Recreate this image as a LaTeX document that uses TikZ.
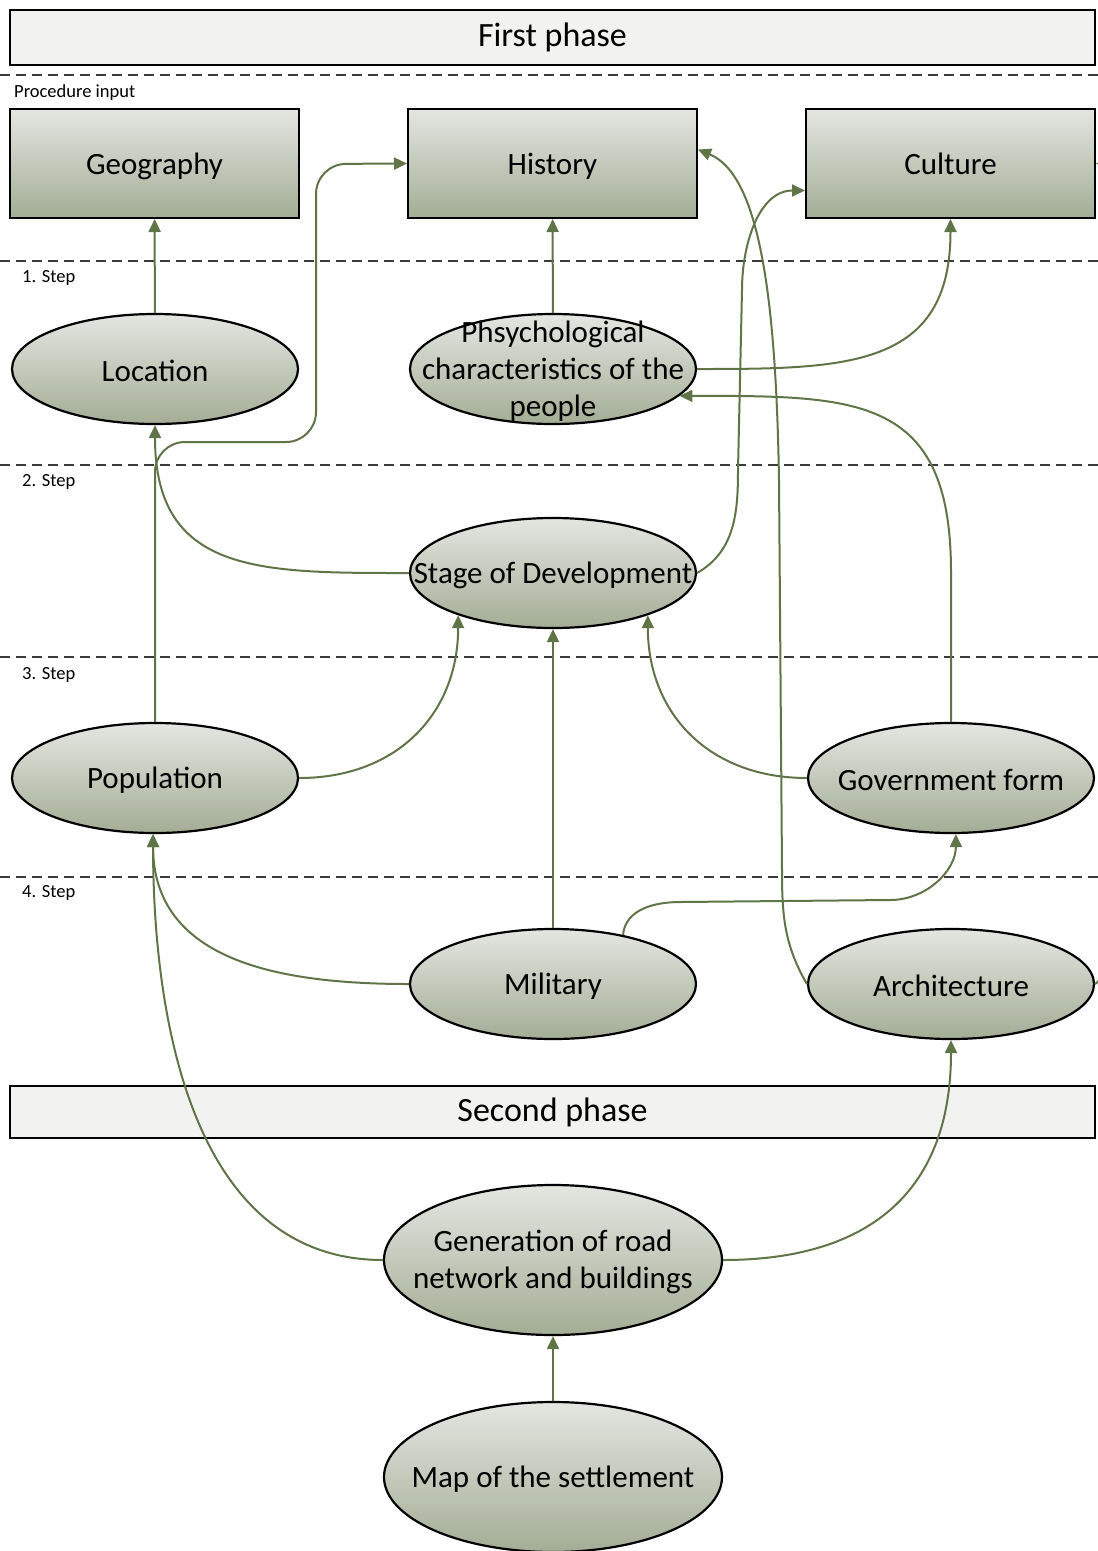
\documentclass[tikz,border=0pt]{standalone}
\usepackage{fontspec}
\setmainfont{Carlito}
\usetikzlibrary{shapes.geometric, arrows.meta}
\definecolor{linkgreen}{HTML}{5F7548}
\definecolor{shadetop}{HTML}{E4E6E1}
\definecolor{shadebot}{HTML}{A3AD95}
\definecolor{phasegray}{HTML}{F2F2F0}
\definecolor{rulegray}{HTML}{3A3A3A}

\tikzset{
  phase/.style={draw, line width=2pt, fill=phasegray, minimum width=1085pt, minimum height=55pt, font=\fontsize{34}{40}\selectfont},
  inbox/.style={draw, line width=2pt, top color=shadetop, bottom color=shadebot, minimum width=289pt, minimum height=109pt, text height=24pt, text depth=2pt, font=\fontsize{31}{37}\selectfont},
  blobtext/.style={align=center, inner sep=0pt, yshift=-2pt, font=\fontsize{31}{37}\selectfont},
  blob/.style={ellipse, draw, line width=2.2pt, top color=shadetop, bottom color=shadebot, minimum width=286pt, minimum height=110pt, inner sep=0pt, label={[blobtext]center:#1}},
  bigblob/.style={blob=#1, minimum width=338pt, minimum height=150pt},
  steplabel/.style={anchor=west, inner sep=0pt, font=\fontsize{18.5}{22}\selectfont},
  divider/.style={rulegray, line width=1.5pt, dash pattern=on 10pt off 6pt},
  link/.style={linkgreen, line width=2pt, -{Triangle[length=13pt,width=12pt]}}
}

\begin{document}
\begin{tikzpicture}[x=1pt, y=-1pt]
\useasboundingbox (0,0) rectangle (1098,1551);
\clip (0,0) rectangle (1098,1551);

\foreach \y in {75,261,465,657,877}
  \draw [divider] (0,\y) -- (1098,\y);

\node [steplabel] (inlabel) at (14,93) {Procedure input};
\node [steplabel] (step1) at (22,278) {1. Step};
\node [steplabel] (step2) at (22,482) {2. Step};
\node [steplabel] (step3) at (22,675) {3. Step};
\node [steplabel] (step4) at (22,893) {4. Step};

\node [phase] (first) at (552.5,37.5) {First phase};
\node [phase, minimum height=52pt] (second) at (552.5,1112) {Second phase};

\node [inbox] (Geography) at (154.5,163.5) {Geography};
\node [inbox] (History) at (552.5,163.5) {History};
\node [inbox] (Culture) at (950.5,163.5) {Culture};

\node [blob=Location] (Location) at (155,369) {};
\node [blob={Phsychological\\characteristics of the\\people}] (Phsych) at (553,369) {};
\node [blob=Stage of Development] (Stage) at (553,573) {};
\node [blob=Population] (Population) at (155,778) {};
\node [blob=Government form] (Government) at (951,778) {};
\node [blob=Military] (Military) at (553,984) {};
\node [blob=Architecture] (Architecture) at (951,984) {};
\node [bigblob={Generation of road\\network and buildings}] (Generation) at (553,1260) {};
\node [bigblob=Map of the settlement] (Map) at (553,1477) {};

\draw [link] (Location) -- (Geography);
\draw [link] (Phsych) -- (History);
\draw [link] (Military) -- (Stage);
\draw [link] (Map) -- (Generation);
\draw [link, rounded corners=30pt] (Population.north) -- (155,442) -- (316,442) -- (316,164) -- (History.west);
\draw [link] (Phsych.east) to[out=0, in=-90, looseness=1.3] (Culture.south);
\draw [link] (Government.north) -- ++(0,-150) to[out=90, in=0, looseness=1.4] (Phsych.-12);
\draw [link] (Stage.west) to[out=180, in=-90, looseness=1.3] (Location.south);
\draw [link] (Stage.east) to[out=30, in=-90] (738,470) -- (742,290) to[out=90, in=180] ([yshift=-27pt]Culture.west);
\draw [link] (Architecture.west) to[out=120, in=-90] (782,870) -- (779,480) .. controls (776,300) and (760,175) .. ([yshift=14pt]History.east);
\draw [link] (Population.east) to[out=0, in=-90, looseness=1.1] (Stage.204);
\draw [link] (Government.west) to[out=180, in=-90, looseness=1.1] (Stage.336);
\draw [link] (Military.35) to[out=85, in=180] (680,902) -- (890,900) to[out=0, in=-90] (Government.275);
\draw [link] (Military.west) to[out=180, in=-90, looseness=1.1] (Population.268);
\draw [link] (Generation.west) to[out=180, in=-90] (Population.268);
\draw [link] (Generation.east) to[out=0, in=-90, looseness=1.2] (Architecture.south);
\draw [link] (Architecture.east) .. controls (1200,900) and (1200,164) .. (Culture.east);
\end{tikzpicture}
\end{document}
